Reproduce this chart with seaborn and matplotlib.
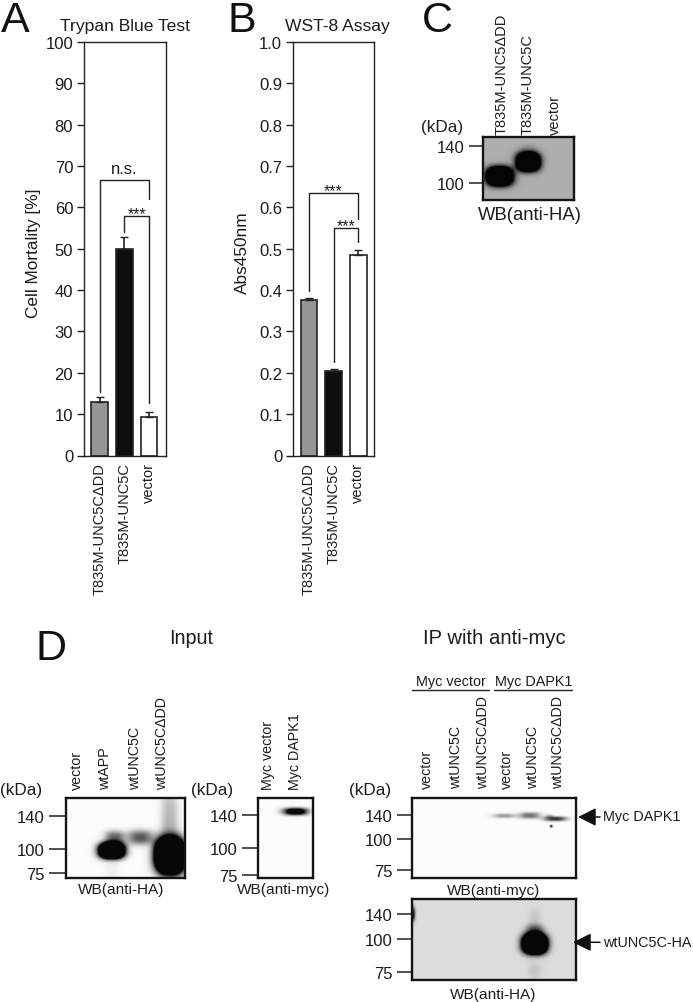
import numpy as np
import pandas as pd
import seaborn as sns
import matplotlib
matplotlib.use("Agg")
import matplotlib.pyplot as plt

# ---------- bar chart data ----------
cats = ["T835M-UNC5CΔDD", "T835M-UNC5C", "vector"]
mortality = [13.0, 50.0, 9.2]
mortality_err = [1.1, 2.8, 1.4]
abs450 = [0.375, 0.205, 0.484]
abs450_err = [0.005, 0.004, 0.012]
bar_colors = ["#969696", "#0e0e0e", "#ffffff"]
yt_a = list(range(0, 101, 10))
yt_b = [i / 10 for i in range(0, 11)]
yl_b = ["0", "0.1", "0.2", "0.3", "0.4", "0.5", "0.6", "0.7", "0.8", "0.9", "1.0"]

# brackets: left x, right x, top, left foot, right foot, label
br_a = [(0, 2, 66.6, 15.4, 62.0, "n.s."), (1, 2, 57.9, 54.0, 12.7, "***")]
br_b = [(0, 2, 0.6355, 0.398, 0.572, "***"), (1, 2, 0.549, 0.225, 0.517, "***")]

# ---------- blot data (band x, y, sigma x, sigma y, strength; figure pixels) ----------
c_bands = [(500, 177.5, 9, 6.5, 4), (528.5, 163, 8, 6.5, 4), (528, 150, 6, 4, 0.1)]
d1_bands = [(112, 851, 8.8, 5.5, 4), (115, 838, 7.5, 5, 0.6), (140.5, 838, 9.5, 5.5, 0.65),
            (170.5, 856, 10, 12, 5), (170, 825, 6.5, 30, 0.28), (112, 870, 6, 8, 0.05)]
d2_bands = [(295, 812, 9, 2.7, 1.4)]
d3_bands = [(504, 816.3, 8.5, 1.7, 0.38), (529.5, 816, 8, 2.4, 0.55), (555, 819.3, 8.5, 1.8, 0.8),
            (551, 826.7, 1.1, 1.1, 0.8), (549, 816.5, 3, 1.3, 0.25)]
d4_bands = [(534.5, 945, 8.2, 6.8, 5), (534.5, 931, 6.5, 4.5, 0.6), (534.5, 918, 4.5, 6, 0.1),
            (534.5, 972, 5, 7, 0.1), (412, 915, 2.2, 5.5, 1.0)]

sns.set_theme(style="white")
plt.rcParams["font.family"] = ["Liberation Sans", "DejaVu Sans"]
INK = "#1c1c1c"
W, H = 693, 1003
fig = plt.figure(figsize=(W / 100, H / 100), dpi=100)


def axpx(x0, y0, x1, y1):
    return fig.add_axes([x0 / W, 1 - y1 / H, (x1 - x0) / W, (y1 - y0) / H])


def bars(box, vals, errs, yticks, ylabels, ymax, ylabel, brackets, xlim):
    ax = axpx(*box)
    df = pd.DataFrame({"group": cats, "value": vals})
    sns.barplot(data=df, x="group", y="value", hue="group", order=cats, hue_order=cats,
                palette=bar_colors, width=0.68, edgecolor="#222222", linewidth=1.2,
                legend=False, ax=ax, errorbar=None)
    ax.errorbar(range(3), vals, yerr=[[0] * 3, errs], fmt="none", ecolor="#222222",
                elinewidth=1.2, capsize=3.2, capthick=1.0)
    ax.set_xlim(*xlim)
    ax.set_ylim(0, ymax)
    ax.set_yticks(yticks, ylabels)
    ax.set_xlabel("")
    ax.set_ylabel(ylabel, fontsize=12.4, color=INK)
    ax.yaxis.set_label_coords(-0.515, 0.492)
    ax.tick_params(axis="y", length=5.4, width=1.0, color="#222222", labelsize=12,
                   labelcolor=INK, pad=2, left=True)
    ax.tick_params(axis="x", length=0, labelsize=10.5, labelcolor=INK, pad=5, rotation=90)
    for s in ax.spines.values():
        s.set_visible(True)
        s.set_linewidth(1.0)
        s.set_color("#222222")
    for x0, x1, top, f0, f1, lab in brackets:
        ax.plot([x0, x0, x1, x1], [f0, top, top, f1], color="#222222", lw=1.0, zorder=5)
        if lab == "n.s.":
            ax.text((x0 + x1) / 2, top + ymax * 0.009, lab, ha="center", va="bottom", fontsize=12, color=INK)
        else:
            ax.text((x0 + x1) / 2, top - ymax * 0.012, lab, ha="center", va="bottom", fontsize=11.5, color=INK)
    return ax


ax_a = bars((83.5, 43, 165.5, 456.5), mortality, mortality_err, yt_a, [str(v) for v in yt_a], 100,
            "Cell Mortality [%]", br_a, (-0.665, 2.67))
ax_b = bars((292.5, 43, 374.5, 456.5), abs450, abs450_err, yt_b, yl_b, 1.0,
            "Abs450nm", br_b, (-0.67, 2.66))


def blot(box, bg, bands, tick_y, tick_lab, tick_px):
    x0, y0, x1, y1 = box
    ax = axpx(*box)
    nx, ny = int(round(x1 - x0)), int(round(y1 - y0))
    xx, yy = np.meshgrid(x0 + (np.arange(nx) + 0.5) * (x1 - x0) / nx,
                         y0 + (np.arange(ny) + 0.5) * (y1 - y0) / ny)
    dens = np.zeros_like(xx)
    for bx, by, sx, sy, amp in bands:
        dens += amp * np.exp(-0.5 * (np.abs((xx - bx) / sx) ** 2.5 + np.abs((yy - by) / sy) ** 2.5))
    img = bg * (1 - np.clip(dens, 0, 0.97))
    sns.heatmap(img, ax=ax, cmap="gray", vmin=0, vmax=1, cbar=False,
                xticklabels=False, yticklabels=False)
    ax.set_xticks([])
    ax.set_yticks([(y - y0) * ny / (y1 - y0) for y in tick_y], tick_lab, rotation=0)
    ax.tick_params(axis="y", length=tick_px * 0.72, width=1.1, color="#222222", left=True,
                   labelsize=12, labelcolor=INK, pad=3)
    for s in ax.spines.values():
        s.set_visible(True)
        s.set_linewidth(1.7)
        s.set_color("#141414")
    return ax


kda = ["140", "100", "75"]
blot((482.5, 137.5, 574, 201), 0.68, c_bands, [146.7, 184], ["140", "100"], 14)
blot((66, 798.5, 184.5, 878.5), 0.985, d1_bands, [816.7, 850, 874], kda, 17)
blot((257.5, 798.5, 312.5, 878.5), 0.985, d2_bands, [815.7, 849, 876], kda, 16)
blot((411.7, 798.5, 575.7, 878.5), 0.985, d3_bands, [815.7, 840, 870.7], kda, 15)
blot((411.7, 900, 575.7, 980.5), 0.86, d4_bands, [915, 940, 972.7], kda, 15)

# ---------- overlay for annotation text ----------
ov = fig.add_axes([0, 0, 1, 1], zorder=10)
ov.set_xlim(0, W)
ov.set_ylim(H, 0)
ov.axis("off")


def t(x, y, s, size, ha="center", va="center", rot=0):
    ov.text(x, y, s, fontsize=size, ha=ha, va=va, rotation=rot, color=INK)


for x, y, s in [(15, 32, "A"), (242, 32, "B"), (437, 32, "C"), (51, 660, "D")]:
    ov.text(x, y, s, fontsize=31, ha="center", va="baseline", color="#111111")

t(125, 26, "Trypan Blue Test", 12.6)
t(337, 26, "WST-8 Assay", 12.6)
t(191, 638, "Input", 14.2)
t(494, 638, "IP with anti-myc", 14.6)

# lane labels
for x, s in zip([501.5, 528, 555], ["T835M-UNC5ΔDD", "T835M-UNC5C", "vector"]):
    t(x, 135, s, 10.5, va="bottom", rot=90)
for x, s in zip([77, 105, 135, 162], ["vector", "wtAPP", "wtUNC5C", "wtUNC5CΔDD"]):
    t(x, 790, s, 10.3, va="bottom", rot=90)
for x, s in zip([267.7, 295], ["Myc vector", "Myc DAPK1"]):
    t(x, 790, s, 10.3, va="bottom", rot=90)
for x, s in zip([427.3, 456, 482.7, 506.7, 533.3, 558.3],
                ["vector", "wtUNC5C", "wtUNC5CΔDD", "vector", "wtUNC5C", "wtUNC5CΔDD"]):
    t(x, 789.5, s, 10.3, va="bottom", rot=90)

# kDa captions
t(463, 127, "(kDa)", 12.3, ha="right")
t(42, 790.7, "(kDa)", 12.3, ha="right")
t(233, 790.7, "(kDa)", 12.3, ha="right")
t(391, 790.7, "(kDa)", 12.3, ha="right")

# WB captions
t(530, 215, "WB(anti-HA)", 13.3)
t(120.7, 890.5, "WB(anti-HA)", 11.1)
t(284, 890.5, "WB(anti-myc)", 11.1)
t(493.3, 891, "WB(anti-myc)", 11.1)
t(493, 995, "WB(anti-HA)", 11.1)

# group headers
t(451, 682, "Myc vector", 10.4)
t(533.3, 682, "Myc DAPK1", 10.4)
ov.plot([412.3, 489.3], [690.7, 690.7], color="#222222", lw=1.0)
ov.plot([494, 572], [690.7, 690.7], color="#222222", lw=1.0)

# arrows
for tip, y, s in [(578, 818, "Myc DAPK1"), (573, 943.3, "wtUNC5C-HA")]:
    ov.annotate("", xy=(tip, y), xytext=(600, y),
                arrowprops=dict(arrowstyle="-|>,head_length=1.1,head_width=0.55", color="#111111",
                                lw=1.1, shrinkA=0, shrinkB=0, mutation_scale=10))
    t(602.7, y - 0.5, s, 10.4, ha="left")

fig.savefig("out.png", dpi=100, facecolor="white")
